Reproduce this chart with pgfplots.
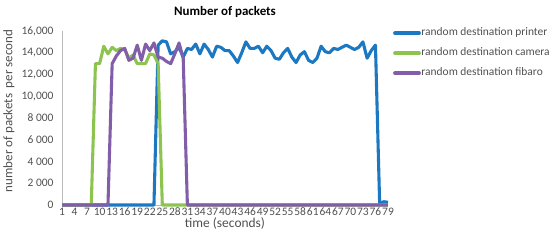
\documentclass[border=0pt]{standalone}
\usepackage{fontspec}
\setmainfont{Carlito}
\usepackage{pgfplots}
\pgfplotsset{compat=1.18}
\definecolor{cblue}{RGB}{28,120,192}
\definecolor{cgreen}{RGB}{141,196,79}
\definecolor{cpurple}{RGB}{130,94,168}
\definecolor{ctext}{RGB}{80,80,80}
\begin{document}
\begin{tikzpicture}
\begin{axis}[
  scale only axis, width=326bp, height=174bp,
  xmin=1, xmax=79, ymin=0, ymax=16000,
  axis x line*=bottom, axis y line*=left,
  axis line style={draw=gray!55, line width=0.9pt},
  xtick={1,4,...,79}, ytick={0,2000,...,16000},
  yticklabels={0,2 000,4 000,6 000,8 000,{10,000},{12,000},{14,000},{16,000}},
  scaled y ticks=false,
  major tick length=0pt,
  /pgf/number format/assume math mode=true,
  tick label style={font=\fontsize{11.5}{12}\selectfont, text=ctext},
  xticklabel style={anchor=center, yshift=-7bp},
  yticklabel style={anchor=east, xshift=-5bp},
  title={Number of packets},
  title style={font=\bfseries\fontsize{13}{14}\selectfont, at={(axis description cs:0.5,1.075)}, anchor=center, yshift=0pt},
  xlabel={time (seconds)},
  xlabel style={font=\fontsize{13.5}{14}\selectfont, text=ctext, at={(axis description cs:0.5,-0.108)}, anchor=center},
  ylabel={number of packets\ \ per second},
  ylabel style={font=\fontsize{13}{14}\selectfont, text=ctext, at={(axis description cs:-0.163,0.54)}, anchor=center},
  legend style={at={(axis description cs:1.006,1.034)}, anchor=north west, draw=none, fill=none,
    font=\fontsize{11.5}{12}\selectfont, text=ctext, nodes={inner sep=0.5bp, text height=8bp, text depth=3bp}, row sep=8bp},
  legend cell align=left,
  legend image code/.code={\draw[#1, line width=3.8pt, line cap=round] (0bp,0bp) -- (24bp,0bp);},
  every axis plot/.append style={line width=3.1pt, line join=round, mark=none},
  clip=false,
]
\addplot[cblue] coordinates {
(1,0)(2,0)(3,0)(4,0)(5,0)(6,0)(7,0)(8,0)(9,0)(10,0)(11,0)(12,0)(13,0)(14,0)(15,0)(16,0)(17,0)(18,0)(19,0)(20,0)(21,0)(22,0)(23,0)
(24,14700)(25,15100)(26,15000)(27,13900)(28,14100)(29,14500)(30,13600)(31,14400)(32,14300)(33,14800)
(34,13900)(35,14800)(36,14300)(37,13600)(38,14600)(39,14500)(40,14200)(41,14200)(42,13700)(43,13100)
(44,14000)(45,15000)(46,14400)(47,14400)(48,14600)(49,14000)(50,14600)(51,14200)(52,13500)(53,13400)
(54,14000)(55,14400)(56,13600)(57,13100)(58,13800)(59,14100)(60,13300)(61,13100)(62,13500)(63,14600)
(64,14100)(65,14000)(66,14400)(67,14300)(68,14500)(69,14700)(70,14500)(71,14300)(72,14500)(73,15000)
(74,13500)(75,14200)(76,14700)(77,150)(78,300)(79,250)
};
\addlegendentry{random destination printer}
\addplot[cgreen] coordinates {
(1,0)(2,0)(3,0)(4,0)(5,0)(6,0)(7,0)(8,0)
(9,13000)(10,13000)(11,14600)(12,13900)(13,14500)(14,14200)(15,14400)(16,14300)(17,13500)(18,13800)
(19,13000)(20,13000)(21,13000)(22,13900)(23,13800)(24,13000)
(25,0)(26,0)(27,0)(28,0)(29,0)(30,0)(31,0)(32,0)(33,0)(34,0)(35,0)(36,0)(37,0)(38,0)(39,0)(40,0)
(41,0)(42,0)(43,0)(44,0)(45,0)(46,0)(47,0)(48,0)(49,0)(50,0)(51,0)(52,0)(53,0)(54,0)(55,0)(56,0)
(57,0)(58,0)(59,0)(60,0)(61,0)(62,0)(63,0)(64,0)(65,0)(66,0)(67,0)(68,0)(69,0)(70,0)(71,0)(72,0)
(73,0)(74,0)(75,0)(76,0)(77,0)(78,0)(79,0)
};
\addlegendentry{random destination camera}
\addplot[cpurple] coordinates {
(1,0)(2,0)(3,0)(4,0)(5,0)(6,0)(7,0)(8,0)(9,0)(10,0)(11,0)(12,0)
(13,13000)(14,13700)(15,14200)(16,14400)(17,13300)(18,13500)(19,14700)(20,13300)(21,14800)(22,14200)
(23,14900)(24,13600)(25,13500)(26,13200)(27,13000)(28,13900)(29,14900)(30,13500)
(31,0)(32,0)(33,0)(34,0)(35,0)(36,0)(37,0)(38,0)(39,0)(40,0)
(41,0)(42,0)(43,0)(44,0)(45,0)(46,0)(47,0)(48,0)(49,0)(50,0)(51,0)(52,0)(53,0)(54,0)(55,0)(56,0)
(57,0)(58,0)(59,0)(60,0)(61,0)(62,0)(63,0)(64,0)(65,0)(66,0)(67,0)(68,0)(69,0)(70,0)(71,0)(72,0)
(73,0)(74,0)(75,0)(76,0)(77,0)(78,0)(79,0)
};
\addlegendentry{random destination fibaro}
\end{axis}
\pgfresetboundingbox
\path[use as bounding box] (-62bp,-36bp) rectangle (488bp,205bp);
\end{tikzpicture}
\end{document}
